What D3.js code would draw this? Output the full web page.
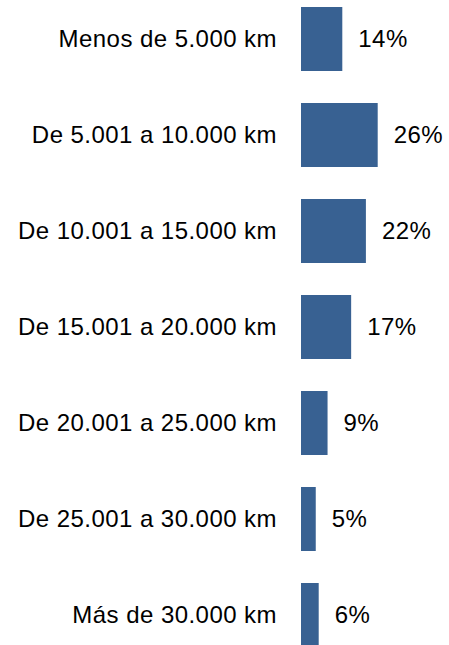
<!DOCTYPE html>
<html>
<head>
<meta charset="utf-8">
<script src="https://cdn.jsdelivr.net/npm/d3@7"></script>
<style>
  html, body { margin: 0; padding: 0; background: #fff; overflow: hidden; }
  text { font-family: "Liberation Sans", Arial, sans-serif; fill: #000; }
</style>
</head>
<body>
<div id="grafica"></div>
<script>
var categories = ["Menos de 5.000 km", "De 5.001 a 10.000 km", "De 10.001 a 15.000 km",
  "De 15.001 a 20.000 km", "De 20.001 a 25.000 km", "De 25.001 a 30.000 km", "Más de 30.000 km"];
var values = [14, 26, 22, 17, 9, 5, 6];
var valueLabels = ["14%", "26%", "22%", "17%", "9%", "5%", "6%"];

var width = 449, height = 645;
var x0 = 301; // where the bars start

var svg = d3.select("#grafica")
  .append("svg")
    .attr("width", width)
    .attr("height", height);

var x = d3.scaleLinear()
  .domain([0, 100])
  .range([0, 295]);

var y = d3.scaleBand()
  .domain(categories)
  .range([-9, 663])
  .paddingInner(1 / 3)
  .paddingOuter(1 / 6);

var rows = svg.selectAll("g.row")
  .data(categories)
  .enter().append("g")
    .attr("class", "row");

// bars
rows.append("rect")
  .attr("x", x0)
  .attr("y", function(d) { return y(d); })
  .attr("width", function(d, i) { return x(values[i]); })
  .attr("height", y.bandwidth())
  .style("fill", "#386192");

// category labels
rows.append("text")
  .attr("x", x0 - 24)
  .attr("y", function(d) { return y(d) + y.bandwidth() / 2; })
  .attr("dy", "0.35em")
  .attr("text-anchor", "end")
  .style("font-size", "24px")
  .style("letter-spacing", "0.45px")
  .text(function(d) { return d; });

// value labels
rows.append("text")
  .attr("x", function(d, i) { return x0 + x(values[i]) + 16; })
  .attr("y", function(d) { return y(d) + y.bandwidth() / 2; })
  .attr("dy", "0.35em")
  .style("font-size", "24px")
  .style("letter-spacing", "0.45px")
  .text(function(d, i) { return valueLabels[i]; });
</script>
</body>
</html>
